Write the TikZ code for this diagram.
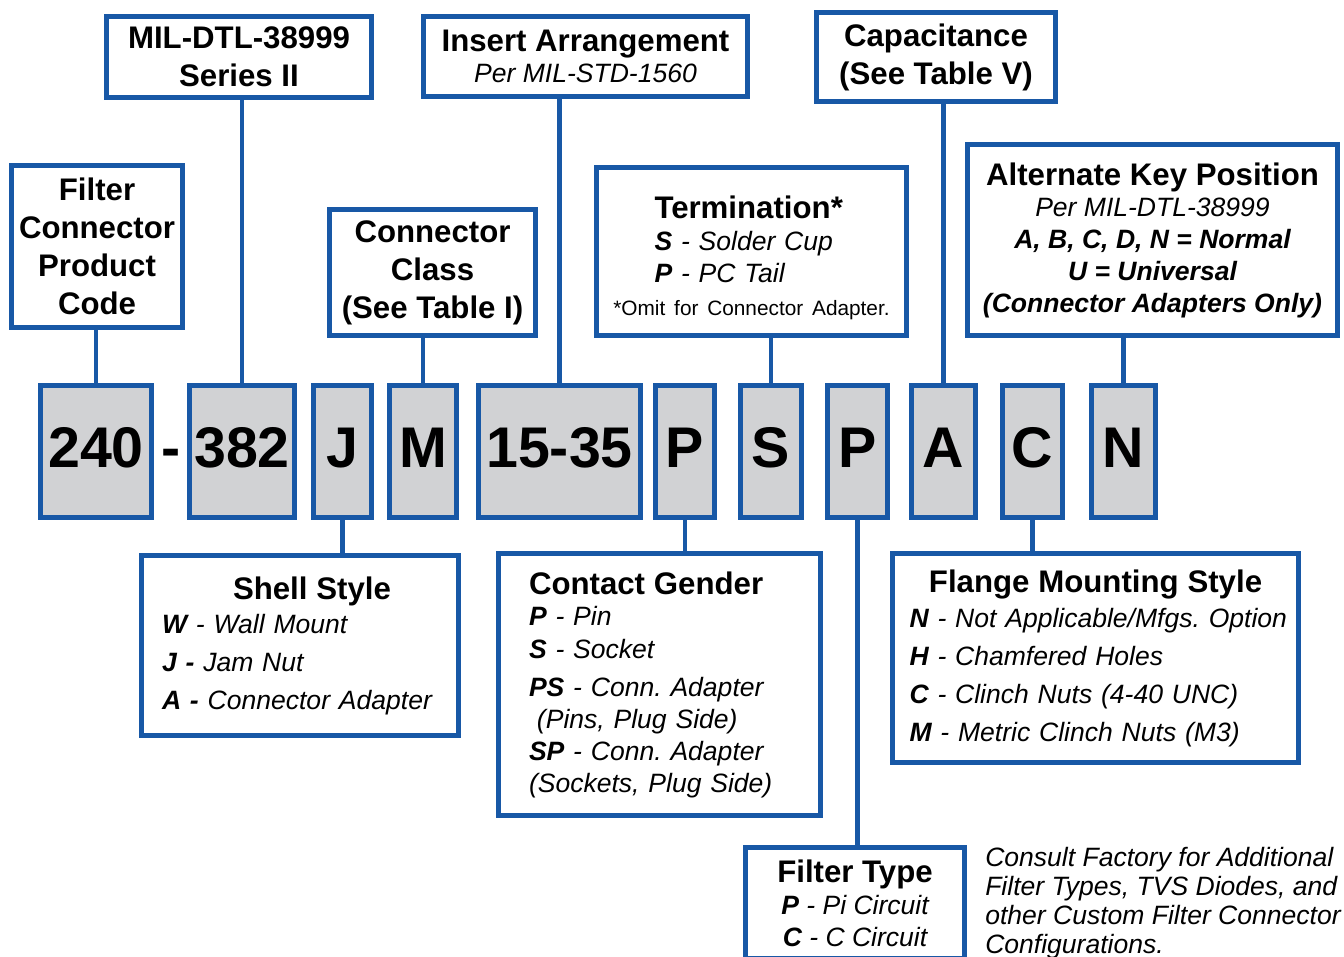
\documentclass[tikz,border=0pt]{standalone}
\usepackage{fontspec}
\setmainfont{Liberation Sans}
\usetikzlibrary{positioning,calc}
\definecolor{cblue}{RGB}{24,88,166}
\definecolor{cgray}{RGB}{209,210,212}
\frenchspacing
\newcommand\ttlfont{\fontsize{23.4pt}{28.5pt}\selectfont\bfseries}
\newcommand\ttl[1]{{\fontsize{23.4pt}{24pt}\selectfont\bfseries\upshape #1}}
\newcommand\bodyfont[1]{\fontsize{19.9pt}{#1}\selectfont\itshape}
\newcommand\kk[1]{\textbf{#1}}
\newcommand\codefont{\fontsize{43pt}{43pt}\selectfont\bfseries}
\tikzset{
  sz/.style 2 args={minimum width=#1*0.75pt, minimum height=#2*0.75pt},
  box/.style={draw=cblue, line width=3.75pt, inner sep=1pt},
  codetxt/.style={font=\codefont, text height=31pt, text depth=7pt},
  code/.style={box, codetxt, fill=cgray},
  conn/.style={draw=cblue, line width=3.5pt},
}
\begin{document}
\begin{tikzpicture}[x=0.75pt, y=-0.75pt]
\useasboundingbox (0,0) rectangle (1344,956);
% part number
\node[code, sz={111}{132}] (c240) at (96,451.5) {240};
\node[codetxt, inner sep=0pt] (dash) at (171,451.5) {-};
\node[code, sz={105}{132}] (c382) at (242,451.5) {382};
\node[code, sz={58}{132}] (cJ) at (342.5,451.5) {J};
\node[code, sz={67}{132}] (cM) at (423,451.5) {M};
\node[code, sz={162}{132}] (c1535) at (559.5,451.5) {15-35};
\node[code, sz={59}{132}] (cP) at (685,451.5) {P};
\node[code, sz={61}{132}] (cS) at (771,451.5) {S};
\node[code, sz={60}{132}] (cPb) at (857.5,451.5) {P};
\node[code, sz={64}{132}] (cA) at (943.5,451.5) {A};
\node[code, sz={60}{132}] (cC) at (1032.5,451.5) {C};
\node[code, sz={64}{132}] (cN) at (1123.5,451.5) {N};
% upper boxes
\node[box, sz={171}{162}, font=\ttlfont, align=center] (fcpc) at (97,246.5) {Filter\\Connector\\Product\\Code};
\node[box, sz={265}{81}, font=\ttlfont, align=center] (mil) at (239,57) {MIL-DTL-38999\\Series II};
\node[box, sz={324}{80}, font=\bodyfont{23.25pt}, align=center] (insert) at (585.5,56.5) {\ttl{Insert Arrangement}\\Per MIL-STD-1560};
\node[box, sz={239}{89}, font=\ttlfont, align=center] (cap) at (936,57) {Capacitance\\(See Table V)};
\node[box, sz={206}{126}, font=\ttlfont, align=center] (cclass) at (432.5,272.5) {Connector\\Class\\(See Table I)};
\node[box, sz={310}{168}, font=\bodyfont{24pt}, text width=145.5pt, align=left] (term) at (751.5,251.5)
  {\rule{0pt}{26pt}\ttl{Termination*}\\ \kk{S} - Solder Cup\\ \kk{P} - PC Tail\\[0.75pt]
   \makebox[\hsize]{\upshape\fontsize{15.6pt}{18pt}\selectfont *Omit for Connector Adapter.}};
\node[box, sz={370}{191}, font=\bodyfont{24pt}, align=center] (altkey) at (1152.5,240)
  {\ttl{Alternate Key Position}\\[-0.75pt] Per MIL-DTL-38999\\ \kk{A, B, C, D, N = Normal}\\
   \kk{U = Universal}\\ \kk{(Connector Adapters Only)}};
% lower boxes
\node[box, sz={317}{180}, font=\bodyfont{28.5pt}, text width=207pt, align=left] (shell) at (300,645.5)
  {\makebox[\hsize]{\hspace{18pt}\ttl{Shell Style}}\\[-3pt] \kk{W} - Wall Mount\\ \kk{J -} Jam Nut\\ \kk{A -} Connector Adapter};
\node[box, sz={322}{262}, font=\bodyfont{24pt}, text width=195.75pt, align=left] (gender) at (659.5,684.5)
  {\ttl{Contact Gender}\\[-0.75pt] \kk{P} - Pin\\[0.75pt] \kk{S} - Socket\\[4.5pt] \kk{PS} - Conn. Adapter\\
   \hspace*{0.3em}(Pins, Plug Side)\\ \kk{SP} - Conn. Adapter\\ (Sockets, Plug Side)};
\node[box, sz={406}{209}, font=\bodyfont{28.5pt}, text width=279pt, align=left] (flange) at (1095.5,658)
  {\makebox[\hsize]{\ttl{Flange Mounting Style}}\\[-2.25pt] \mbox{\kk{N} - Not Applicable/Mfgs. Option}\\
   \kk{H} - Chamfered Holes\\ \kk{C} - Clinch Nuts (4-40 UNC)\\ \kk{M} - Metric Clinch Nuts (M3)};
\node[box, sz={219}{111}, font=\bodyfont{24pt}, align=center] (ftype) at (855,903)
  {\ttl{Filter Type}\\ \kk{P} - Pi Circuit\\ \kk{C} - C Circuit};
\node[font=\bodyfont{21.75pt}, align=left, inner sep=0pt, anchor=north west] (note)
  at ($(ftype.north east)+(18,1.5)$) {Consult Factory for Additional\\Filter Types, TVS Diodes, and\\
   other Custom Filter Connector\\Configurations.};
% connectors
\foreach \from/\to in {c240/fcpc, c382/mil, cM/cclass, c1535/insert, cS/term, cA/cap, cN/altkey}
  \draw[conn] (\from.north) -- (\from.north |- \to.south);
\foreach \from/\to in {cJ/shell, cP/gender, cPb/ftype, cC/flange}
  \draw[conn] (\from.south) -- (\from.south |- \to.north);
\end{tikzpicture}
\end{document}
